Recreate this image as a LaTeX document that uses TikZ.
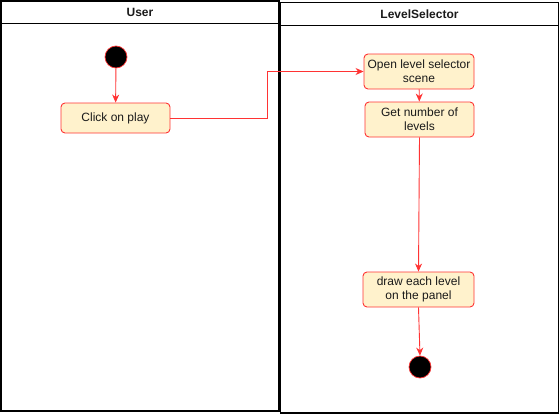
\documentclass[tikz,border=0pt]{standalone}
\usepackage{fontspec}
\setmainfont{Liberation Sans}
\usetikzlibrary{arrows.meta}
\definecolor{boxfill}{HTML}{FFF2CC}
\definecolor{boxline}{HTML}{FF3333}
\definecolor{txt}{HTML}{1A1A1A}
\begin{document}
\begin{tikzpicture}[x=1pt,y=-1pt,
  lane/.style={draw=black,line width=1.5pt},
  act/.style={draw=boxline,fill=boxfill,rounded corners=4pt,line width=0.9pt,
    text=txt,align=center,font=\fontsize{12}{14}\selectfont,inner sep=0pt},
  dot/.style={circle,fill=black,draw=boxline,line width=0.7pt,minimum size=22pt,inner sep=0pt},
  flow/.style={draw=boxline,line width=0.9pt,-{Stealth[length=8pt,width=7pt,inset=2.5pt]}},
  hdr/.style={font=\bfseries\fontsize{12}{14}\selectfont,text=txt}]
\useasboundingbox (0,0) rectangle (560,415);
% lanes
\draw[lane] (0.75,0.75) rectangle (279,411);
\draw[lane] (0.75,23.5) -- (279,23.5);
\draw[lane] (280.5,2.5) rectangle (558.5,413);
\draw[lane] (280.5,25.5) -- (558.5,25.5);
\node[hdr] (huser) at (140,12) {User};
\node[hdr] (hls) at (419.5,14) {LevelSelector};
% nodes
\node[dot] (start) at (116,57) {};
\node[act,minimum width=109pt,minimum height=30pt] (click) at (115.5,118) {Click on play};
\node[act,minimum width=110pt,minimum height=35pt] (open) at (419,71.5) {Open level selector\\scene};
\node[act,minimum width=109pt,minimum height=35pt] (getn) at (419.5,119.5) {Get number of\\levels};
\node[act,minimum width=111pt,minimum height=35pt] (drawl) at (418.5,289.5) {draw each level\\on the panel};
\node[dot] (end) at (420,367) {};
% connectors
\draw[flow] (start) -- (click);
\draw[flow] (click.east) -- (267,118) -- (267,71.5) -- (open.west);
\draw[flow] (open) -- (getn);
\draw[flow] (getn.south) -- (drawl.north);
\draw[flow] (drawl.south) -- (end.north);
\end{tikzpicture}
\end{document}
